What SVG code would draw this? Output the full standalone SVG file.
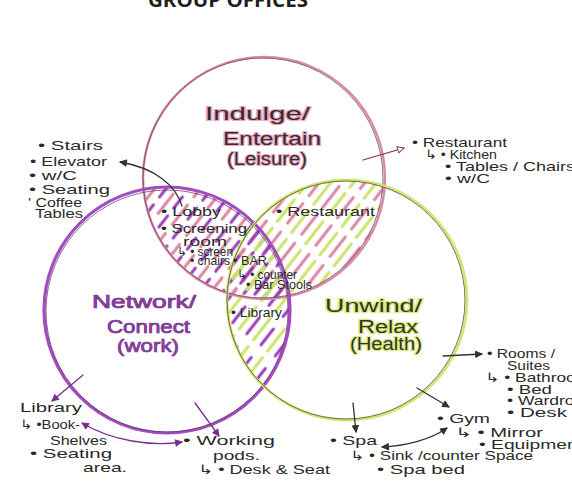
<svg xmlns="http://www.w3.org/2000/svg" width="572" height="488" viewBox="0 0 572 488">
<style>
.t{font-family:"Liberation Sans","DejaVu Sans",sans-serif;font-size:13px;fill:#2a2a2a}
.big{font-family:"Liberation Sans","DejaVu Sans",sans-serif;font-size:18px;paint-order:stroke;stroke-linejoin:round}
.lp{fill:#3a2a30;stroke:#e7a9c0;stroke-width:2.2}
.lu{fill:#8e3aa8;stroke:#4e2160;stroke-width:0.7}
.lg{fill:#333;stroke:#dcec7a;stroke-width:2.6}
.title{font-family:"Open Sans","Liberation Sans",sans-serif;font-weight:bold;font-size:20px;fill:#1e1e1e}
.a{fill:none;stroke-width:1.3;stroke-linecap:round}
</style>
<defs>
<clipPath id="cPink"><circle cx="264" cy="178" r="120"/></clipPath>
<clipPath id="cPurple"><circle cx="167" cy="310" r="122"/></clipPath>
<clipPath id="cGreen"><circle cx="347" cy="300" r="119"/></clipPath>
<pattern id="hPinkA" width="72" height="18" patternUnits="userSpaceOnUse" patternTransform="rotate(-52)">
<line x1="0" y1="4" x2="72" y2="4" stroke="#da86a3" stroke-width="2.8" stroke-dasharray="26 10" stroke-linecap="round"/>
</pattern>
<pattern id="hPurpleB" width="72" height="18" patternUnits="userSpaceOnUse" patternTransform="rotate(-52)">
<line x1="0" y1="13" x2="72" y2="13" stroke="#9a3fb6" stroke-width="3.2" stroke-dasharray="14 10" stroke-dashoffset="9" stroke-linecap="round"/>
</pattern>
<pattern id="hGreenB" width="72" height="18" patternUnits="userSpaceOnUse" patternTransform="rotate(-52)">
<line x1="0" y1="13" x2="72" y2="13" stroke="#cde26a" stroke-width="2.8" stroke-dasharray="28 8" stroke-dashoffset="4" stroke-linecap="round"/>
</pattern>
<pattern id="hPurpleA" width="72" height="18" patternUnits="userSpaceOnUse" patternTransform="rotate(-52)">
<line x1="0" y1="4" x2="72" y2="4" stroke="#9a3fb6" stroke-width="3.2" stroke-dasharray="20 16" stroke-dashoffset="3" stroke-linecap="round"/>
</pattern>
<marker id="mK" viewBox="0 0 10 10" refX="9" refY="5" markerWidth="8" markerHeight="8" markerUnits="userSpaceOnUse" orient="auto-start-reverse">
<path d="M1,1 L9,5 L1,9 Z" fill="#333" stroke="#222" stroke-width="1"/>
</marker>
<marker id="mP" viewBox="0 0 10 10" refX="9" refY="5" markerWidth="8" markerHeight="8" markerUnits="userSpaceOnUse" orient="auto-start-reverse">
<path d="M1,1 L9,5 L1,9 Z" fill="#7d2c93" stroke="#6a2680" stroke-width="1"/>
</marker>
<marker id="mR" viewBox="0 0 10 10" refX="9" refY="5" markerWidth="8" markerHeight="8" markerUnits="userSpaceOnUse" orient="auto-start-reverse">
<path d="M1,1 L9,5 L1,9 Z" fill="#fff" stroke="#8a2f5c" stroke-width="1.2"/>
</marker>
</defs>
<rect width="572" height="488" fill="#fff"/>
<text class="title" x="148" y="7" textLength="160" lengthAdjust="spacingAndGlyphs">GROUP OFFICES</text>

<g id="hatching">
<g clip-path="url(#cPink)"><g clip-path="url(#cPurple)">
<rect x="0" y="0" width="572" height="488" fill="url(#hPinkA)"/>
<rect x="0" y="0" width="572" height="488" fill="url(#hPurpleB)"/>
</g></g>
<g clip-path="url(#cPink)"><g clip-path="url(#cGreen)">
<rect x="0" y="0" width="572" height="488" fill="url(#hPinkA)"/>
<rect x="0" y="0" width="572" height="488" fill="url(#hGreenB)"/>
</g></g>
<g clip-path="url(#cPurple)"><g clip-path="url(#cGreen)">
<rect x="0" y="0" width="572" height="488" fill="url(#hGreenB)"/>
<rect x="0" y="0" width="572" height="488" fill="url(#hPurpleA)"/>
</g></g>
</g>

<g id="leisure">
<circle cx="264" cy="178" r="121" fill="none" stroke="#d98aa8" stroke-width="2.4"/>
<circle cx="263" cy="178" r="120" fill="none" stroke="#6e4a5a" stroke-width="0.8"/>
<text class="big lp" x="205" y="120" textLength="105" lengthAdjust="spacingAndGlyphs">Indulge/</text>
<text class="big lp" x="223" y="145" textLength="98" lengthAdjust="spacingAndGlyphs">Entertain</text>
<text class="big lp" x="227" y="165" textLength="80" lengthAdjust="spacingAndGlyphs">(Leisure)</text>
</g>

<g id="work">
<circle cx="167" cy="310" r="123" fill="none" stroke="#a24cbf" stroke-width="3.2"/>
<circle cx="167" cy="311" r="121" fill="none" stroke="#5a3068" stroke-width="0.7"/>
<text class="big lu" x="92" y="308" textLength="104" lengthAdjust="spacingAndGlyphs">Network/</text>
<text class="big lu" x="107" y="333" textLength="83" lengthAdjust="spacingAndGlyphs">Connect</text>
<text class="big lu" x="117" y="352" textLength="62" lengthAdjust="spacingAndGlyphs">(work)</text>
</g>

<g id="health">
<circle cx="347" cy="300" r="120" fill="none" stroke="#d2e56e" stroke-width="2.8"/>
<circle cx="346" cy="300" r="119" fill="none" stroke="#4f4f45" stroke-width="0.8"/>
<text class="big lg" x="325" y="312" textLength="97" lengthAdjust="spacingAndGlyphs">Unwind/</text>
<text class="big lg" x="358" y="333" textLength="60" lengthAdjust="spacingAndGlyphs">Relax</text>
<text class="big lg" x="350" y="350" textLength="72" lengthAdjust="spacingAndGlyphs">(Health)</text>
</g>

<g id="overlap-leisure-work">
<text class="t" x="161" y="216" font-size="14" textLength="60" lengthAdjust="spacingAndGlyphs">• Lobby</text>
<text class="t" x="161" y="233" textLength="86" lengthAdjust="spacingAndGlyphs">• Screening</text>
<text class="t" x="183" y="246" font-size="11" textLength="44" lengthAdjust="spacingAndGlyphs">room</text>
<text class="t" x="177" y="256" font-size="9" textLength="56" lengthAdjust="spacingAndGlyphs">↳ • screen</text>
<text class="t" x="190" y="264.5" font-size="7" textLength="40" lengthAdjust="spacingAndGlyphs">• chairs</text>
</g>

<g id="overlap-center">
<text class="t" x="233" y="265" font-size="10" textLength="34" lengthAdjust="spacingAndGlyphs">• BAR</text>
<text class="t" x="237" y="279" font-size="10" textLength="60" lengthAdjust="spacingAndGlyphs">↳ • counter</text>
<text class="t" x="246" y="289" font-size="7" textLength="66" lengthAdjust="spacingAndGlyphs">• Bar Stools</text>
</g>

<g id="overlap-leisure-health">
<text class="t" x="276" y="216" font-size="14" textLength="99" lengthAdjust="spacingAndGlyphs">• Restaurant</text>
</g>

<g id="overlap-work-health">
<text class="t" x="231" y="317" font-size="11" textLength="51" lengthAdjust="spacingAndGlyphs">• Library</text>
</g>

<g id="list-lobby">
<text class="t" x="38" y="150" textLength="65" lengthAdjust="spacingAndGlyphs">• Stairs</text>
<text class="t" x="30" y="166" textLength="77" lengthAdjust="spacingAndGlyphs">• Elevator</text>
<text class="t" x="29" y="180" textLength="48" lengthAdjust="spacingAndGlyphs">• w/C</text>
<text class="t" x="29" y="194" font-size="12" textLength="81" lengthAdjust="spacingAndGlyphs">• Seating</text>
<text class="t" x="28" y="207" font-size="11" textLength="54" lengthAdjust="spacingAndGlyphs">' Coffee</text>
<text class="t" x="35" y="218" font-size="10" textLength="48" lengthAdjust="spacingAndGlyphs">Tables</text>
</g>

<g id="list-restaurant">
<text class="t" x="412" y="147" font-size="12" textLength="95" lengthAdjust="spacingAndGlyphs">• Restaurant</text>
<text class="t" x="425" y="159" font-size="11" textLength="72" lengthAdjust="spacingAndGlyphs">↳ • Kitchen</text>
<text class="t" x="445" y="171" font-size="11" textLength="130" lengthAdjust="spacingAndGlyphs">• Tables / Chairs</text>
<text class="t" x="445" y="183" font-size="11" textLength="45" lengthAdjust="spacingAndGlyphs">• w/C</text>
</g>

<g id="list-rooms">
<text class="t" x="487" y="358" font-size="12" textLength="68" lengthAdjust="spacingAndGlyphs">• Rooms /</text>
<text class="t" x="507" y="370" font-size="11" textLength="43" lengthAdjust="spacingAndGlyphs">Suites</text>
<text class="t" x="485" y="382" font-size="11" textLength="105" lengthAdjust="spacingAndGlyphs">↳ • Bathroom</text>
<text class="t" x="507" y="394" font-size="11" textLength="45" lengthAdjust="spacingAndGlyphs">• Bed</text>
<text class="t" x="507" y="405" font-size="10" textLength="87" lengthAdjust="spacingAndGlyphs">• Wardrobe</text>
<text class="t" x="507" y="417" font-size="11" textLength="60" lengthAdjust="spacingAndGlyphs">• Desk</text>
</g>

<g id="list-gym">
<text class="t" x="437" y="423" font-size="13" textLength="53" lengthAdjust="spacingAndGlyphs">• Gym</text>
<text class="t" x="455" y="437" font-size="11" textLength="88" lengthAdjust="spacingAndGlyphs">↳ • Mirror</text>
<text class="t" x="479" y="449" font-size="11" textLength="104" lengthAdjust="spacingAndGlyphs">• Equipment</text>
</g>

<g id="list-spa">
<text class="t" x="330" y="445" font-size="13" textLength="47" lengthAdjust="spacingAndGlyphs">• Spa</text>
<text class="t" x="350" y="460" font-size="12" textLength="183" lengthAdjust="spacingAndGlyphs">↳ • Sink /counter  Space</text>
<text class="t" x="377" y="474" font-size="12" textLength="88" lengthAdjust="spacingAndGlyphs">• Spa bed</text>
</g>

<g id="list-library">
<text class="t" x="20" y="412" textLength="62" lengthAdjust="spacingAndGlyphs">Library</text>
<text class="t" x="20" y="429" font-size="12" textLength="60" lengthAdjust="spacingAndGlyphs">↳ •Book-</text>
<text class="t" x="50" y="445" font-size="12" textLength="57" lengthAdjust="spacingAndGlyphs">Shelves</text>
<text class="t" x="30" y="458" font-size="12" textLength="82" lengthAdjust="spacingAndGlyphs">• Seating</text>
<text class="t" x="83" y="472" font-size="12" textLength="44" lengthAdjust="spacingAndGlyphs">area.</text>
</g>

<g id="list-pods">
<text class="t" x="183" y="445" font-size="13" textLength="92" lengthAdjust="spacingAndGlyphs">• Working</text>
<text class="t" x="213" y="460" font-size="12" textLength="47" lengthAdjust="spacingAndGlyphs">pods.</text>
<text class="t" x="198" y="474" font-size="12" textLength="132" lengthAdjust="spacingAndGlyphs">↳ • Desk &amp; Seat</text>
</g>

<g id="connectors">
<path class="a" d="M182,206 C176,186 156,168 120,162" stroke="#333" marker-end="url(#mK)"/>
<path class="a" d="M363,160 L404,148" stroke="#8a2f5c" stroke-width="1.6" marker-end="url(#mR)"/>
<path class="a" d="M83,375 L52,401" stroke="#7d2c93" stroke-width="1.8" marker-end="url(#mP)"/>
<path class="a" d="M195,403 L219,436" stroke="#7d2c93" stroke-width="1.8" marker-end="url(#mP)"/>
<path class="a" d="M82,423 C110,440 150,447 182,442" stroke="#7d2c93" stroke-width="1.8" marker-start="url(#mP)" marker-end="url(#mP)"/>
<path class="a" d="M443,356 L482,354" stroke="#333" marker-end="url(#mK)"/>
<path class="a" d="M417,388 L449,407" stroke="#333" marker-end="url(#mK)"/>
<path class="a" d="M353,403 L356,432" stroke="#333" marker-end="url(#mK)"/>
<path class="a" d="M382,447 C405,446 430,440 447,428" stroke="#333" stroke-width="1.5" marker-start="url(#mK)" marker-end="url(#mK)"/>
</g>
</svg>
